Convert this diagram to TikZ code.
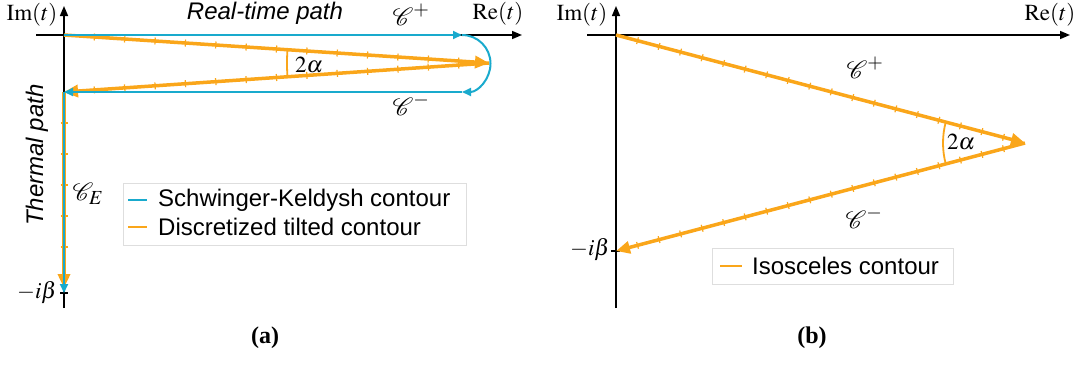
\documentclass[tikz,border=0pt]{standalone}
\usepackage{mathptmx}
\usepackage{mathrsfs}
\usepackage{fontspec}
\setmainfont{Liberation Serif}
\setsansfont{Liberation Sans}
\usetikzlibrary{arrows.meta,calc}
\definecolor{skblue}{RGB}{25,170,205}
\definecolor{tiltorange}{RGB}{250,166,26}
\definecolor{legframe}{RGB}{222,222,222}
\begin{document}
\begin{tikzpicture}[x=1pt,y=1pt,
  axis/.style={line width=1.5pt,-{Triangle[length=10pt,width=8pt]}},
  axisplain/.style={line width=1.5pt},
  bluepath/.style={skblue,line width=2pt},
  blueend/.style={bluepath,-{Triangle[length=9pt,width=8pt]}},
  orpath/.style={tiltorange,line width=3.5pt,-{Triangle[length=14pt,width=12pt]}},
  ortick/.style={tiltorange,line width=1.2pt},
  sanslab/.style={font=\sffamily\fontsize{24}{28}\selectfont},
  sansit/.style={font=\sffamily\itshape\fontsize{24}{28}\selectfont},
  mathlab/.style={font=\fontsize{23}{27}\selectfont},
  scrlab/.style={font=\fontsize{27}{31}\selectfont,inner sep=1pt},
  caplab/.style={font=\bfseries\fontsize{24}{28}\selectfont},
  legbox/.style={draw=legframe,line width=0.8pt,fill=white},
  legline/.style={line width=2pt},
]
\useasboundingbox (0,0) rectangle (1081,-365);

% ================= Panel (a) =================
\coordinate (ao) at (64,-35);
\coordinate (atip) at (489,-63);
\coordinate (acorner) at (64,-92);
\coordinate (aorend) at (64,-288);
\coordinate (ablend) at (64,-293);
\coordinate (atopR) at (462,-35);
\coordinate (abotR) at (462,-92);
\coordinate (axL) at (36,-35);
\coordinate (axR) at (522,-35);
\coordinate (ayB) at (64,-308);
\coordinate (ayT) at (64,-6);

% axes
\draw[axis] (axL) -- (axR);
\draw[axis] (ayB) -- (ayT);
\draw[axisplain] (60,-293) -- (68,-293);

% orange tilted contour
\draw[orpath] (ao) -- (atip);
\draw[orpath] (atip) -- (acorner);
\draw[orpath] (acorner) -- (aorend);
\foreach \k in {1,...,13}{
  \coordinate (p) at ($(ao)!{\k/14}!(atip)$);
  \draw[ortick] ($(p)!3.5pt!90:(atip)$) -- ($(p)!3.5pt!-90:(atip)$);
  \coordinate (q) at ($(atip)!{\k/14}!(acorner)$);
  \draw[ortick] ($(q)!3.5pt!90:(acorner)$) -- ($(q)!3.5pt!-90:(acorner)$);
}
\foreach \k in {1,...,6}{
  \draw[ortick] ($(acorner)+(-3.5,-31*\k)$) -- ($(acorner)+(3.5,-31*\k)$);
}
% angle arc
\draw[tiltorange,line width=1.8pt] ($(atip)!202pt!(ao)$) arc[start angle=176.2,end angle=183.9,radius=202];

% blue Schwinger-Keldysh contour
\draw[blueend] (ao) -- (atopR);
\draw[blueend] (atopR) arc[start angle=90,end angle=-90,radius=28.5];
\draw[blueend] (abotR) -- (acorner);
\draw[blueend] (acorner) -- (ablend);

% labels
\node[mathlab] (aIm) at (32,-15) {$\mathrm{Im}(t)$};
\node[mathlab] (aRe) at (498,-14) {$\mathrm{Re}(t)$};
\node[sansit] (areal) at (265,-13) {Real-time path};
\node[scrlab] (acp) at (411,-15) {$\mathscr{C}^{+}$};
\node[scrlab] (acm) at (411,-105) {$\mathscr{C}^{-}$};
\node[mathlab] (a2al) at (309,-65) {$2\alpha$};
\node[sansit,rotate=90] (atherm) at (37,-155) {Thermal path};
\node[scrlab] (acE) at (88,-194) {$\mathscr{C}_{E}$};
\node[mathlab] (aib) at (37,-293) {$-i\beta$};

% legend (a)
\draw[legbox] (123,-183) rectangle (466,-245);
\draw[legline,skblue] (128,-200) -- (147,-200);
\draw[legline,tiltorange] (128,-227) -- (147,-227);
\node[sanslab,anchor=west,inner sep=0pt] (aleg1) at (158,-200) {Schwinger-Keldysh contour};
\node[sanslab,anchor=west,inner sep=0pt] (aleg2) at (158,-227) {Discretized tilted contour};

\node[caplab] (acap) at (265,-338) {(a)};

% ================= Panel (b) =================
\coordinate (bo) at (616,-35);
\coordinate (btip) at (1025,-143);
\coordinate (bend) at (616,-251);
\coordinate (bxL) at (587,-35);
\coordinate (bxR) at (1070,-35);
\coordinate (byB) at (616,-308);
\coordinate (byT) at (616,-6);

\draw[axis] (bxL) -- (bxR);
\draw[axis] (byB) -- (byT);
\draw[axisplain] (611,-251) -- (620,-251);

\draw[orpath] (bo) -- (btip);
\draw[orpath] (btip) -- (bend);
\foreach \k in {1,...,18}{
  \coordinate (p) at ($(bo)!{\k/19}!(btip)$);
  \draw[ortick] ($(p)!3.5pt!90:(btip)$) -- ($(p)!3.5pt!-90:(btip)$);
  \coordinate (q) at ($(btip)!{\k/19}!(bend)$);
  \draw[ortick] ($(q)!3.5pt!90:(bend)$) -- ($(q)!3.5pt!-90:(bend)$);
}
\draw[tiltorange,line width=1.8pt] ($(btip)!82pt!(bo)$) arc[start angle=165.21,end angle=194.79,radius=82];

\node[mathlab] (bIm) at (582,-15) {$\mathrm{Im}(t)$};
\node[mathlab] (bRe) at (1050,-15) {$\mathrm{Re}(t)$};
\node[scrlab] (bcp) at (865,-68) {$\mathscr{C}^{+}$};
\node[scrlab] (bcm) at (864,-218) {$\mathscr{C}^{-}$};
\node[mathlab] (b2al) at (961,-142) {$2\alpha$};
\node[mathlab] (bib) at (590,-250) {$-i\beta$};

\draw[legbox] (712,-248) rectangle (953,-284);
\draw[legline,tiltorange] (720,-266) -- (742,-266);
\node[sanslab,anchor=west,inner sep=0pt] (bleg) at (752,-266) {Isosceles contour};

\node[caplab] (bcap) at (812,-338) {(b)};
\end{tikzpicture}
\end{document}
